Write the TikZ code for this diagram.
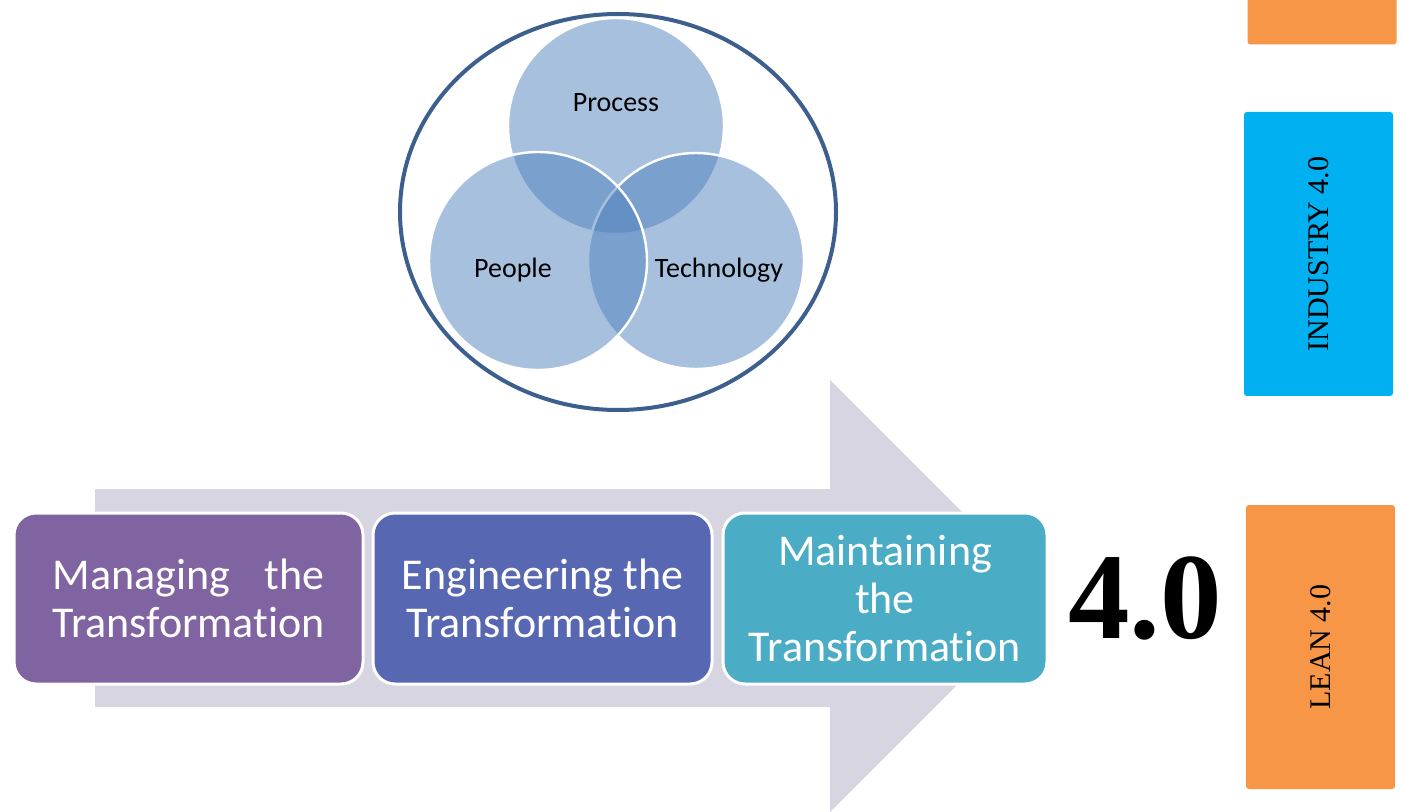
\documentclass[tikz,border=0pt]{standalone}
\usepackage{fontspec}
\setmainfont{Carlito}[Ligatures=NoCommon]
\newfontfamily\timesfont{Liberation Serif}

\definecolor{vennblue}{HTML}{4F81BD}
\definecolor{ringblue}{HTML}{3C5F8E}
\definecolor{arrowgrey}{HTML}{D8D5E3}
\definecolor{managepurple}{HTML}{8064A2}
\definecolor{engineblue}{HTML}{5867B2}
\definecolor{maintainteal}{HTML}{4BACC6}
\definecolor{leanorange}{HTML}{F79646}
\definecolor{industrycyan}{HTML}{00B0F0}

\begin{document}
\begin{tikzpicture}[x=0.5pt,y=-0.5pt,
        venn/.style={fill=vennblue,fill opacity=0.5,draw=white,line width=1.2pt},
        stage/.style={rounded corners=11pt,draw=white,line width=1.5pt,text=white,minimum height=85.5pt,
                      font=\fontsize{22}{24}\selectfont,align=center,inner sep=0pt},
        tag/.style={rotate=90,rounded corners=1.5pt,minimum width=142pt,minimum height=74.5pt,
                    font=\timesfont\fontsize{15}{17}\selectfont}]
                    \useasboundingbox (0,0) rectangle (1402,812);
                    % big arrow behind the stages
                    \fill[arrowgrey] (95,489) -- (830,489) -- (830,380) -- (1046,596) -- (830,812) -- (830,707) -- (95,707) -- cycle;
                    \node[stage,fill=managepurple,minimum width=174.5pt](managing) at (188.5,598.5){\sbox0{Transformation}\makebox[\wd0][s]{Managing the}\\Transformation};
                    \node[stage,fill=engineblue,minimum width=169.5pt](engineering) at (542.5,598.5){Engineering the\\Transformation};
                    \node[stage,fill=maintainteal,minimum width=162pt](maintaining) at (885,598.5){Maintaining\\the\\Transformation};
                    % venn
                    \draw[venn] (616,126) circle [radius=108];
                    \draw[venn] (696,261) circle [radius=108];
                    \draw[venn] (538,261) circle [radius=109];
                    \draw[ringblue,line width=2pt] (618,212) ellipse [x radius=218,y radius=198];
                    \node[font=\fontsize{14}{16}\selectfont](process) at (616,103){Process};
                    \node[font=\fontsize{14}{16}\selectfont](people) at (513,270){People};
                    \node[font=\fontsize{14}{16}\selectfont](technology) at (719,270){Technology};
                    % right side
                    \node[inner sep=0pt,font=\timesfont\bfseries\fontsize{61.5}{70}\selectfont](four) at (1145,598.5){4.0};
                    \node[tag,fill=leanorange](topbox) at (1322,-97.5){};
                    \node[tag,fill=industrycyan](industry) at (1318.5,254){INDUSTRY 4.0};
                    \node[tag,fill=leanorange](lean) at (1320.5,647){LEAN 4.0};
                \end{tikzpicture}
\end{document}
